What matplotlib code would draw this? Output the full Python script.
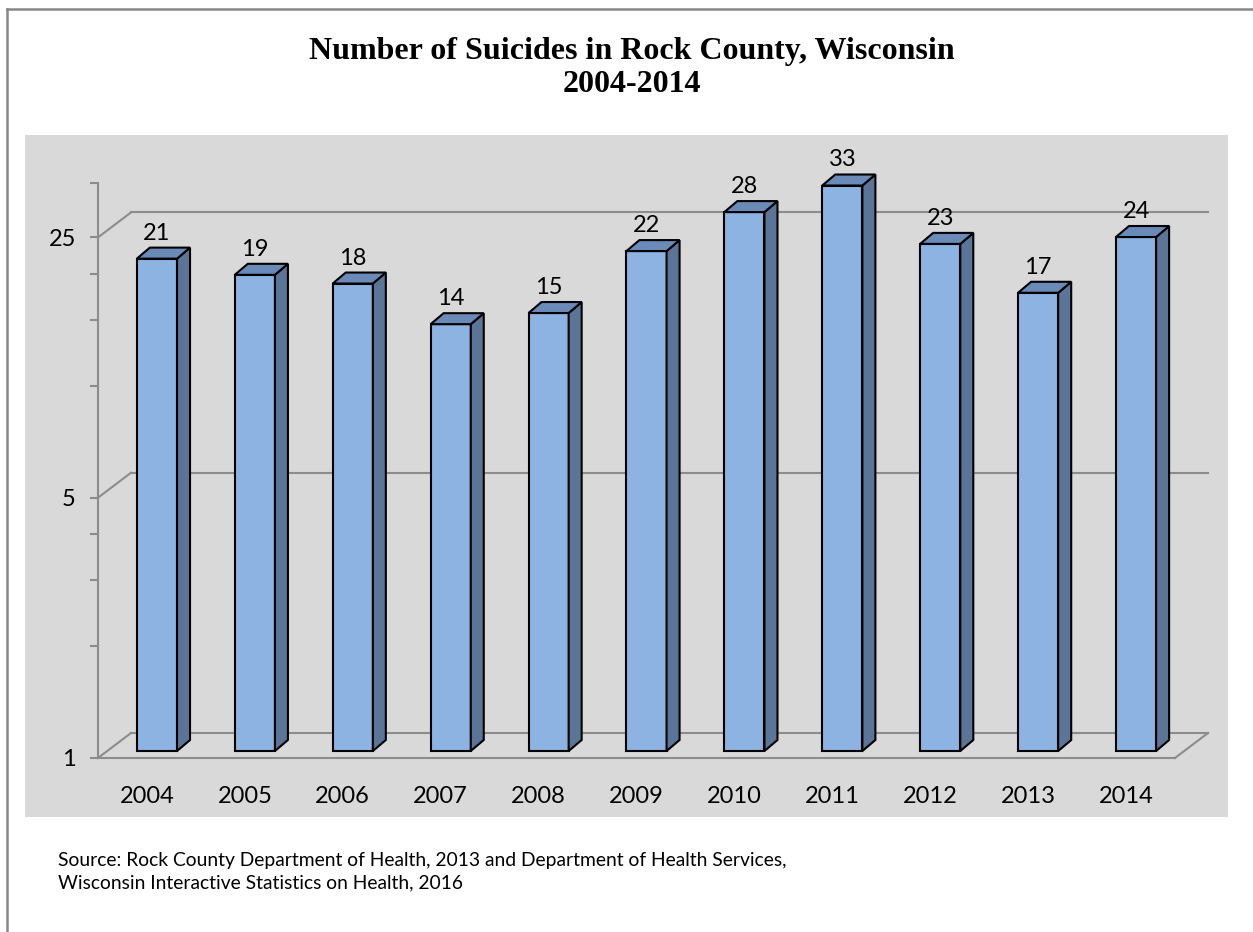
import matplotlib
matplotlib.use("Agg")
import matplotlib.pyplot as plt
import numpy as np
from matplotlib.transforms import offset_copy, IdentityTransform
from matplotlib.lines import Line2D
from matplotlib.patches import Polygon, Rectangle

plt.rcParams['font.family'] = ['Lato', 'DejaVu Sans']

years = ['2004', '2005', '2006', '2007', '2008', '2009', '2010', '2011', '2012', '2013', '2014']
suicides = [21, 19, 18, 14, 15, 22, 28, 33, 23, 17, 24]
major_ticks = [1, 5, 25]
minor_ticks = [2, 3, 4, 10, 15, 20, 35]
title = "Number of Suicides in Rock County, Wisconsin\n2004-2014"
source = ("Source: Rock County Department of Health, 2013 and Department of Health Services,\n"
          "Wisconsin Interactive Statistics on Health, 2016")

W, H = 1253, 932
fig = plt.figure(figsize=(W / 100, H / 100), dpi=100)

# gray chart area + outer frame
fig.add_artist(Rectangle((25 / W, 1 - 817 / H), 1203 / W, 682 / H, transform=fig.transFigure,
                         facecolor='#D9D9D9', edgecolor='none', zorder=-2))
fig.add_artist(Line2D([7 / W, 7 / W], [0, 1 - 9 / H], transform=fig.transFigure, color='#888888', lw=1.8))
fig.add_artist(Line2D([7 / W, 1], [1 - 9 / H, 1 - 9 / H], transform=fig.transFigure, color='#888888', lw=1.8))

ax = fig.add_axes([98 / W, 174 / H, 1077 / W, 575 / H])
ax.set_facecolor('none')
ax.set_yscale('log', base=5)
ax.set_ylim(1, 35)
ax.set_xlim(-0.5, len(years) - 0.5)
ax.autoscale(False)

grid_c = '#8C8C8C'
for s in ['top', 'right']:
    ax.spines[s].set_visible(False)
ax.spines['left'].set_color(grid_c)
ax.spines['left'].set_linewidth(1.5)
ax.spines['bottom'].set_color(grid_c)
ax.spines['bottom'].set_linewidth(1.5)

ax.set_yticks(major_ticks)
ax.set_yticklabels([str(t) for t in major_ticks])
ax.set_yticks(minor_ticks, minor=True)
ax.yaxis.set_minor_formatter(matplotlib.ticker.NullFormatter())
ax.tick_params(axis='y', which='both', length=6, width=1.5, color=grid_c, pad=10, labelsize=17)
ax.set_xticks(range(len(years)))
ax.set_xticklabels(years)
ax.tick_params(axis='x', length=0, pad=20, labelsize=17)

# back wall grid lines (depth offset in pixels)
DX, DY = 33, 25
back = offset_copy(ax.transData, fig=fig, x=DX, y=DY, units='dots')
x0, x1 = ax.get_xlim()
for v in major_ticks:
    ax.plot([x0, x1], [v, v], transform=back, color=grid_c, lw=1.5, clip_on=False, zorder=1)
    p = ax.transData.transform((x0, v))
    ax.add_line(Line2D([p[0], p[0] + DX], [p[1], p[1] + DY], transform=IdentityTransform(),
                       color=grid_c, lw=1.5, clip_on=False, zorder=1))
p = ax.transData.transform((x1, 1))
ax.add_line(Line2D([p[0], p[0] + DX], [p[1], p[1] + DY], transform=IdentityTransform(),
                   color=grid_c, lw=1.5, clip_on=False, zorder=1))

# 3D-looking bars
front = offset_copy(ax.transData, fig=fig, x=10, y=7, units='dots')
bw = 0.41
bdx, bdy = 13, 11
xs = np.arange(len(years))
vals = np.array(suicides)
ax.bar(xs, vals - 1, bottom=1, width=bw, transform=front, color='#8DB3E2',
       edgecolor='black', linewidth=1.5, zorder=3, clip_on=False)
for xi, v in zip(xs, vals):
    (ax_, ay0), (bx_, _), (_, ay1) = front.transform([(xi - bw / 2, 1), (xi + bw / 2, 1), (xi, v)])
    side = [(bx_, ay0), (bx_ + bdx, ay0 + bdy), (bx_ + bdx, ay1 + bdy), (bx_, ay1)]
    top = [(ax_, ay1), (bx_, ay1), (bx_ + bdx, ay1 + bdy), (ax_ + bdx, ay1 + bdy)]
    ax.add_patch(Polygon(side, closed=True, transform=IdentityTransform(), facecolor='#5B7598',
                         edgecolor='black', lw=1.5, zorder=3, clip_on=False, joinstyle='miter'))
    ax.add_patch(Polygon(top, closed=True, transform=IdentityTransform(), facecolor='#6A8AB8',
                         edgecolor='black', lw=1.5, zorder=3, clip_on=False, joinstyle='miter'))
    ax.annotate(str(v), xy=(xi, v), xycoords=front, xytext=(0, 13.7), textcoords='offset points',
                ha='center', va='baseline', fontsize=17, zorder=5)

fig.text(631.5 / W, 1 - 68 / H, title, ha='center', va='center', fontsize=23,
         fontweight='bold', family='Liberation Serif', linespacing=1.22)
fig.text(58 / W, 1 - 871.5 / H, source, ha='left', va='center', fontsize=13.9, linespacing=1.4)

fig.savefig('out.png', dpi=100)
